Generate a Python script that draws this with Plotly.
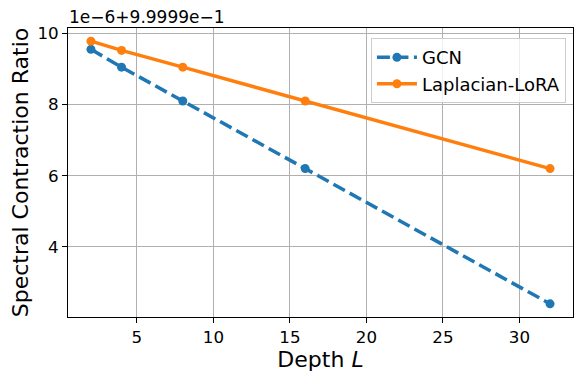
"""Spectral contraction ratio vs depth, matplotlib-like styling in Plotly."""

import plotly.graph_objects as go

depth = [2, 4, 8, 16, 32]
# ratios (axis shown as offset 0.99999, scale 1e-6)
gcn_ratio = [0.99999955, 0.99999905, 0.99999810, 0.99999620, 0.99999240]
lora_ratio = [0.99999978, 0.99999952, 0.99999905, 0.99999810, 0.99999620]

OFFSET = 0.99999
SCALE = 1e-6
FONT = "DejaVu Sans"
BLUE = "#1f77b4"
ORANGE = "#ff7f0e"


def scaled(values):
    return [(v - OFFSET) / SCALE for v in values]


fig = go.Figure()
fig.add_trace(
    go.Scatter(
        x=depth,
        y=scaled(gcn_ratio),
        mode="lines+markers",
        name="GCN",
        line={"color": BLUE, "width": 3.5, "dash": "13px,5.5px"},
        marker={"color": BLUE, "size": 9},
    )
)
fig.add_trace(
    go.Scatter(
        x=depth,
        y=scaled(lora_ratio),
        mode="lines+markers",
        name="Laplacian-LoRA",
        line={"color": ORANGE, "width": 3.5},
        marker={"color": ORANGE, "size": 9},
    )
)

axis_common = {
    "showline": True,
    "linecolor": "black",
    "linewidth": 1.1,
    "mirror": True,
    "ticks": "outside",
    "ticklen": 5,
    "tickwidth": 1.1,
    "tickcolor": "black",
    "showgrid": True,
    "gridcolor": "#b0b0b0",
    "gridwidth": 1.1,
    "zeroline": False,
    "automargin": False,
    "tickfont": {"size": 16.7, "color": "black", "family": FONT},
}

fig.update_xaxes(
    range=[0.5, 33.5],
    tickvals=[5, 10, 15, 20, 25, 30],
    title={"text": "Depth <i>L</i>", "font": {"size": 22, "color": "black", "family": FONT}, "standoff": 5},
    **axis_common,
)
fig.update_yaxes(
    range=[2.03, 10.15],
    tickvals=[4, 6, 8, 10],
    title={"text": "Spectral Contraction Ratio", "font": {"size": 22, "color": "black", "family": FONT}, "standoff": 10},
    **axis_common,
)

fig.add_annotation(
    text="1e\u22126+9.9999e\u22121",
    xref="paper",
    yref="paper",
    x=0,
    y=1.0,
    xanchor="left",
    yanchor="top",
    yshift=22,
    borderpad=0,
    showarrow=False,
    font={"size": 17, "color": "black", "family": FONT},
)

# the page body adds an 8px offset, so margins are shifted to compensate
fig.update_layout(
    width=584,
    height=384,
    paper_bgcolor="white",
    plot_bgcolor="white",
    font={"family": FONT, "color": "black"},
    margin={"l": 60, "r": 19, "t": 20, "b": 75},
    legend={
        "x": 0.986,
        "y": 0.965,
        "xanchor": "right",
        "yanchor": "top",
        "bgcolor": "rgba(255,255,255,0.8)",
        "bordercolor": "#cccccc",
        "borderwidth": 1,
        "font": {"size": 18, "family": FONT, "color": "black"},
        "itemwidth": 40,
        "tracegroupgap": 0,
    },
)

fig.write_html("out.html")
